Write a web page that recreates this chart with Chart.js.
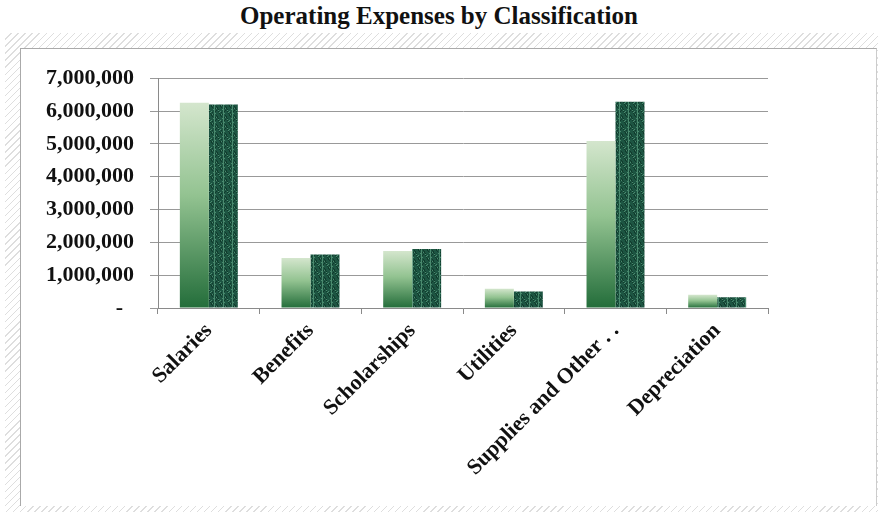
<!DOCTYPE html>
<html>
<head>
<meta charset="utf-8">
<script src="https://cdn.jsdelivr.net/npm/chart.js@4/dist/chart.umd.min.js"></script>
<style>
    html, body { margin: 0; padding: 0; background: #fff; }
    body { width: 878px; height: 512px; position: relative; overflow: hidden; }
    #title {
        position: absolute; left: 0; top: 2px; width: 878px; height: 34px;
        text-align: center; line-height: 34px;
        font: bold 25px "Liberation Serif", "Times New Roman", serif; color: #111;
    }
    #frame {
        position: absolute; left: 5px; top: 33px; width: 890px; height: 487px;
        background: repeating-linear-gradient(135deg, #fff 0 4px, #dedede 4px 5px);
    }
    #inner {
        position: absolute; left: 15px; top: 15px; width: 855px; height: 457px;
        background: #fff; border-left: 1px solid #aaa; border-top: 1px solid #aaa; border-right: 1px solid #ccc;
    }
    #chartBox { position: absolute; left: 0; top: 0; width: 855px; height: 457px; }
</style>
</head>
<body>
<div id="title">Operating Expenses by Classification</div>
<div id="frame">
    <div id="inner">
        <div id="chartBox"><canvas id="expenseChart"></canvas></div>
    </div>
</div>
<script>
// Expense categories and the two years of amounts
const categories = ['Salaries', 'Benefits', 'Scholarships', 'Utilities', 'Supplies and Other . .', 'Depreciation'];
const priorYear = [6250000, 1520000, 1740000, 590000, 5090000, 400000];
const currentYear = [6200000, 1630000, 1800000, 500000, 6280000, 330000];
const yTicks = [0, 1000000, 2000000, 3000000, 4000000, 5000000, 6000000, 7000000];

const serif = '"Liberation Serif", "Times New Roman", serif';

// Light bars: vertical gradient from pale top to deep green base
function lightGradient(context) {
    const chart = context.chart;
    const y = chart.scales.y;
    if (!y || context.raw == null) return '#8fbf8c';
    const top = y.getPixelForValue(context.raw);
    const bottom = y.getPixelForValue(0);
    if (!isFinite(top) || !isFinite(bottom) || top === bottom) return '#8fbf8c';
    const g = chart.ctx.createLinearGradient(0, top, 0, bottom);
    g.addColorStop(0, '#d4e6cd');
    g.addColorStop(0.45, '#93c391');
    g.addColorStop(1, '#236d3a');
    return g;
}

// Dark bars: speckled teal-green texture
function speckle() {
    const c = document.createElement('canvas');
    c.width = 9; c.height = 9;
    const p = c.getContext('2d');
    p.fillStyle = '#1d5542';
    p.fillRect(0, 0, 9, 9);
    for (let i = 0; i < 9; i++) {
        for (let j = 0; j < 9; j++) {
            const h = (i * 37 + j * 91 + i * j * 13) % 11;
            if (h === 0 || h === 5) { p.fillStyle = '#4a8a6e'; p.fillRect(i, j, 1, 1); }
            else if (h === 3 || h === 8) { p.fillStyle = '#113a2c'; p.fillRect(i, j, 1, 1); }
        }
    }
    return p.createPattern(c, 'repeat');
}

const ctx = document.getElementById('expenseChart').getContext('2d');
new Chart(ctx, {
    type: 'bar',
    data: {
        labels: categories,
        datasets: [{
            label: 'Series 1',
            data: priorYear,
            backgroundColor: lightGradient,
            borderWidth: 0,
            categoryPercentage: 0.57,
            barPercentage: 1.0
        }, {
            label: 'Series 2',
            data: currentYear,
            backgroundColor: speckle(),
            borderWidth: 0,
            categoryPercentage: 0.57,
            barPercentage: 1.0
        }]
    },
    options: {
        responsive: true,
        maintainAspectRatio: false,
        animation: false,
        layout: { padding: { left: 0, top: 11, right: 108, bottom: 0 } },
        plugins: {
            legend: { display: false },
            tooltip: { enabled: false }
        },
        scales: {
            y: {
                min: 0,
                max: 7000000,
                afterFit: (scale) => { scale.width = 137; },
                afterBuildTicks: (scale) => { scale.ticks = yTicks.map(v => ({ value: v })); },
                border: { color: '#8a8a8a', width: 1 },
                grid: { color: '#999999', lineWidth: 1, tickLength: 8 },
                ticks: {
                    padding: 16,
                    color: '#111',
                    font: { family: serif, size: 22, weight: 'bold' },
                    callback: function(value) {
                        if (value === 0) return '-  ';
                        return new Intl.NumberFormat('en-US').format(value);
                    }
                }
            },
            x: {
                afterFit: (scale) => { scale.height = 198; },
                border: { color: '#8a8a8a', width: 1 },
                grid: { drawOnChartArea: false, color: '#8a8a8a', tickLength: 6, offset: true },
                ticks: {
                    minRotation: 45,
                    maxRotation: 45,
                    padding: 4,
                    color: '#111',
                    font: { family: serif, size: 22, weight: 'bold' }
                }
            }
        }
    }
});
</script>
</body>
</html>
